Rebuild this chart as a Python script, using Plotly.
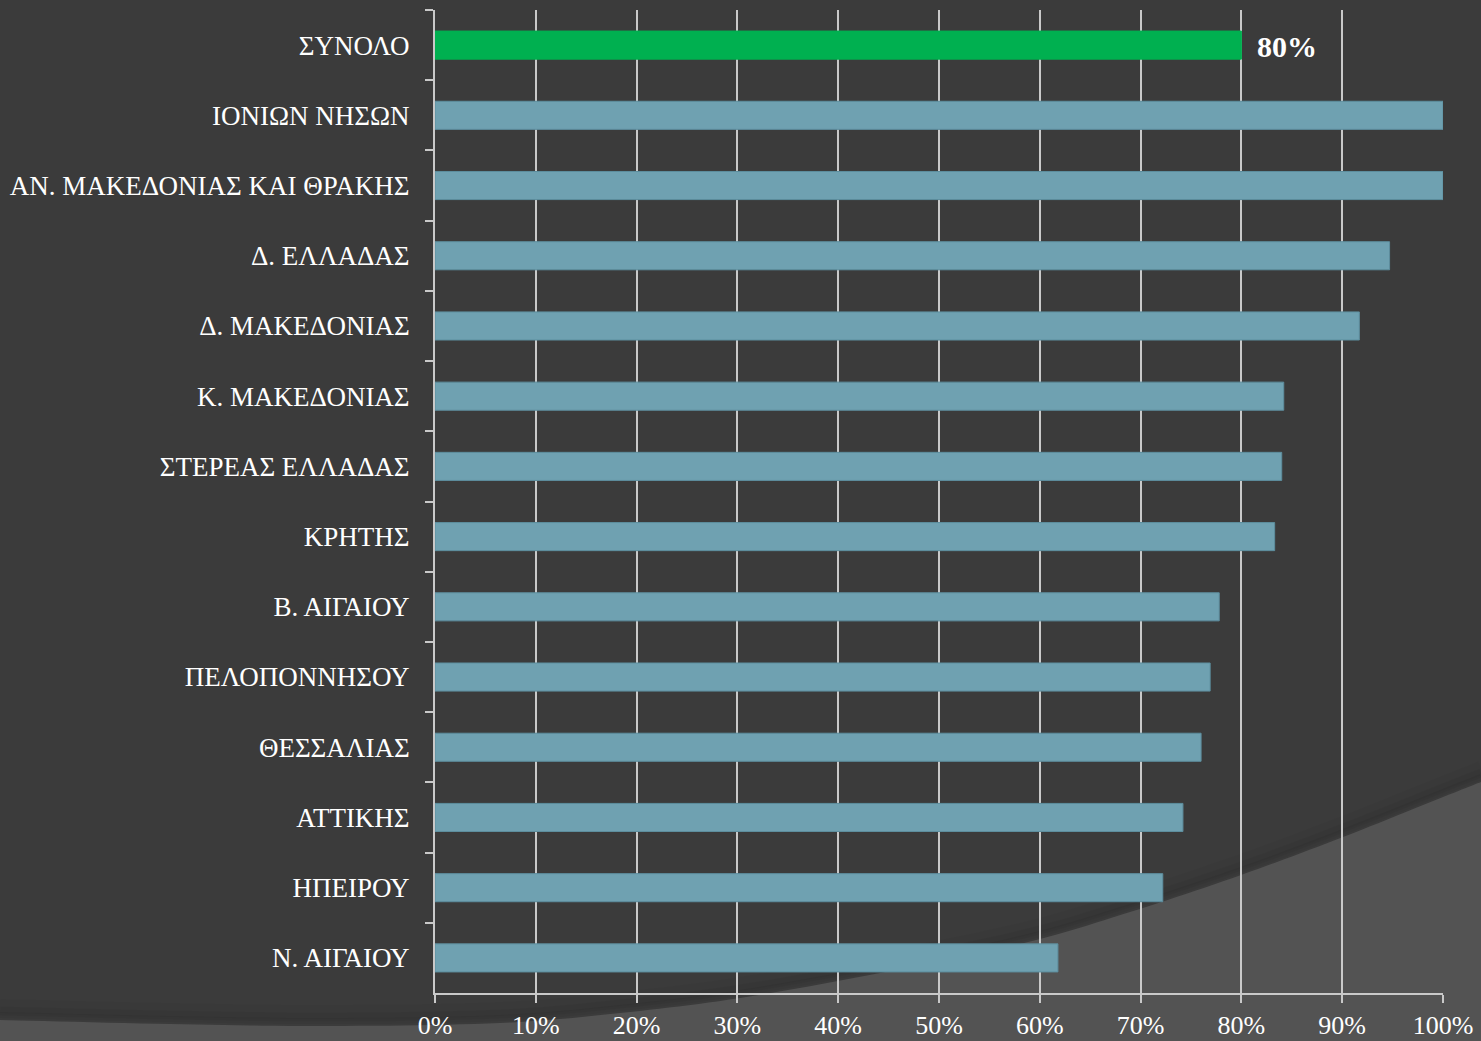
import plotly.graph_objects as go

regions = [
    "ΣΥΝΟΛΟ", "ΙΟΝΙΩΝ ΝΗΣΩΝ", "ΑΝ. ΜΑΚΕΔΟΝΙΑΣ ΚΑΙ ΘΡΑΚΗΣ", "Δ. ΕΛΛΑΔΑΣ",
    "Δ. ΜΑΚΕΔΟΝΙΑΣ", "Κ. ΜΑΚΕΔΟΝΙΑΣ", "ΣΤΕΡΕΑΣ ΕΛΛΑΔΑΣ", "ΚΡΗΤΗΣ",
    "Β. ΑΙΓΑΙΟΥ", "ΠΕΛΟΠΟΝΝΗΣΟΥ", "ΘΕΣΣΑΛΙΑΣ", "ΑΤΤΙΚΗΣ", "ΗΠΕΙΡΟΥ", "Ν. ΑΙΓΑΙΟΥ",
]
values = [0.80, 1.00, 1.00, 0.947, 0.917, 0.842, 0.840, 0.833,
          0.778, 0.769, 0.760, 0.742, 0.722, 0.618]
total_label = "80%"
x_ticks = [i / 10 for i in range(11)]
x_tick_labels = [f"{i*10}%" for i in range(11)]

W, H = 1481, 1041
ML, MR, MT, MB = 435, 38, 10, 48
PW, PH = W - ML - MR, H - MT - MB

BG_DARK = "#3b3b3b"
BG_LIGHT = "#535353"
BAR = "#6fa1b1"
BAR_LINE = "#5d8e9e"
GREEN = "#00b050"
GRID = "#c9c9c9"
FONT = "Liberation Serif"

colors = [GREEN] + [BAR] * (len(regions) - 1)
lines = [GREEN] + [BAR_LINE] * (len(regions) - 1)


def px2paper(x, y):
    return (x - ML) / PW, (H - MB - y) / PH


# decorative background curve (pixel guide points), smoothed with Catmull-Rom
guide = [(0, 1020), (170, 1024), (330, 1026), (500, 1023), (620, 1013), (740, 998),
         (880, 973), (1024, 943), (1130, 912), (1241, 875), (1343, 837),
         (1443, 797), (1481, 782)]


def catmull(pts, n=12):
    out = []
    ext = [pts[0]] + pts + [pts[-1]]
    for i in range(1, len(ext) - 2):
        p0, p1, p2, p3 = ext[i - 1], ext[i], ext[i + 1], ext[i + 2]
        for k in range(n):
            t = k / n
            t2, t3 = t * t, t * t * t
            x = 0.5 * ((2 * p1[0]) + (-p0[0] + p2[0]) * t + (2 * p0[0] - 5 * p1[0] + 4 * p2[0] - p3[0]) * t2 + (-p0[0] + 3 * p1[0] - 3 * p2[0] + p3[0]) * t3)
            y = 0.5 * ((2 * p1[1]) + (-p0[1] + p2[1]) * t + (2 * p0[1] - 5 * p1[1] + 4 * p2[1] - p3[1]) * t2 + (-p0[1] + 3 * p1[1] - 3 * p2[1] + p3[1]) * t3)
            out.append((x, y))
    out.append(pts[-1])
    return out


curve = catmull(guide)


def path_from(points, close_bottom=False, dy=0):
    segs = []
    for i, (x, y) in enumerate(points):
        px, py = px2paper(x, y + dy)
        segs.append(("M" if i == 0 else "L") + f"{px:.5f},{py:.5f}")
    if close_bottom:
        a, b = px2paper(W + 2, H + 2)
        c, d = px2paper(-2, H + 2)
        segs.append(f"L{a:.5f},{px2paper(W + 2, points[-1][1])[1]:.5f}")
        segs.append(f"L{a:.5f},{b:.5f}")
        segs.append(f"L{c:.5f},{d:.5f}")
        segs.append("Z")
    return " ".join(segs)


shapes = []
# soft shadow above curve
for dy, alpha, w in [(-14, 0.025, 14), (-9, 0.035, 9), (-5, 0.05, 6)]:
    shapes.append(dict(type="path", xref="paper", yref="paper", layer="below",
                       path=path_from(curve, dy=dy),
                       line=dict(color=f"rgba(0,0,0,{alpha})", width=w)))
shapes.append(dict(type="path", xref="paper", yref="paper", layer="below",
                   path=path_from(curve, close_bottom=True),
                   fillcolor=BG_LIGHT, line=dict(width=0)))

fig = go.Figure()
fig.add_trace(go.Bar(
    x=values, y=regions, orientation="h", width=0.4,
    marker=dict(color=colors, line=dict(color=lines, width=1)),
    hoverinfo="skip",
))

fig.add_annotation(
    x=values[0], y=regions[0], text=f"<b>{total_label}</b>", showarrow=False,
    xanchor="left", yanchor="middle", xshift=14, yshift=-1,
    font=dict(family=FONT, size=30, color="#ffffff"),
)

fig.update_layout(
    width=W, height=H,
    margin=dict(l=ML, r=MR, t=MT, b=MB, pad=0, autoexpand=False),
    paper_bgcolor=BG_DARK, plot_bgcolor="rgba(0,0,0,0)",
    showlegend=False, shapes=shapes,
    font=dict(family=FONT, size=27, color="#ffffff"),
)
fig.update_xaxes(
    range=[0, 1], tickvals=x_ticks, ticktext=x_tick_labels,
    showgrid=True, gridcolor=GRID, gridwidth=2,
    showline=True, linecolor=GRID, linewidth=2,
    ticks="outside", ticklen=8, tickwidth=2, tickcolor=GRID,
    tickfont=dict(family=FONT, size=26, color="#ffffff"),
    zeroline=False, fixedrange=True, automargin=False,
)
fig.update_yaxes(
    autorange="reversed", type="category", tickson="boundaries",
    showgrid=False, showline=True, linecolor=GRID, linewidth=2,
    ticks="outside", ticklen=8, tickwidth=2, tickcolor=GRID,
    tickfont=dict(family=FONT, size=27, color="#ffffff"),
    ticklabelstandoff=18, fixedrange=True, automargin=False,
)

fig.write_html(
    "out.html",
    config={"displayModeBar": False},
    post_script="document.body.style.margin='0px';document.body.style.overflow='hidden';",
)
